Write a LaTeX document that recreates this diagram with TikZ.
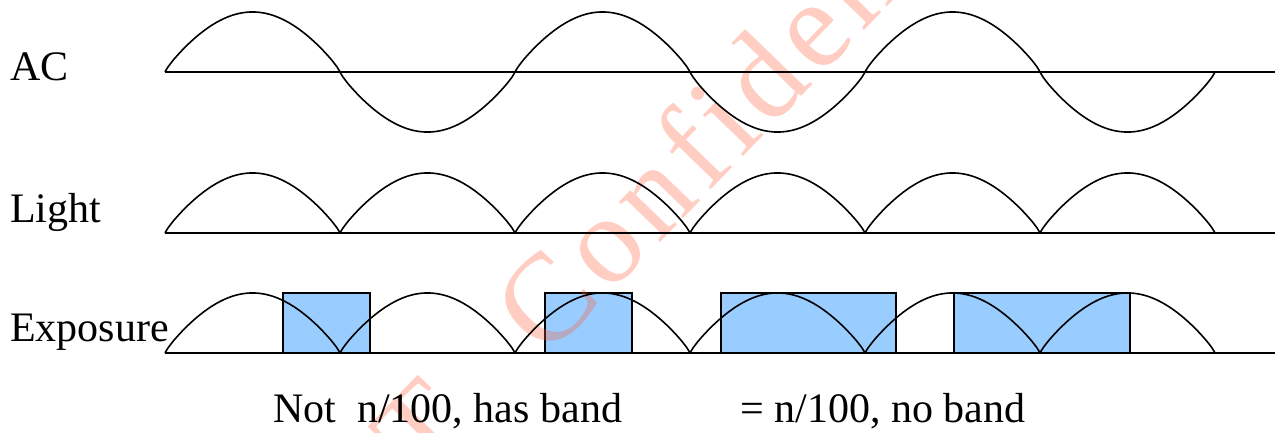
\documentclass[tikz,border=0pt]{standalone}
\usepackage{fontspec}
\setmainfont{Liberation Serif}
\newfontfamily\wmfont[LetterSpace=6]{Liberation Serif}
\definecolor{expblue}{RGB}{153,204,255}
\definecolor{wmred}{RGB}{255,90,50}
\begin{document}
\begin{tikzpicture}[x=1pt,y=-1pt]
\tikzset{
  wave/.style={line width=1.6pt, draw=black, line join=round},
  axis/.style={line width=1.6pt, draw=black},
  expbox/.style={draw=black, line width=1.6pt, fill=expblue},
  lbl/.style={anchor=base west, inner sep=0pt, font=\fontsize{42}{50}\selectfont},
  wm/.style={anchor=base west, inner sep=0pt, text=wmred, text opacity=0.3,
             font=\wmfont\fontsize{125}{130}\selectfont}
}
\useasboundingbox (0,0) rectangle (1280,432);
\clip (0,0) rectangle (1280,432);

% exposure windows
\draw[expbox] (283,293) rectangle (370,353);
\draw[expbox] (545,293) rectangle (632,353);
\draw[expbox] (721,293) rectangle (896,353);
\draw[expbox] (954,293) rectangle (1130,353);

% watermark
\node[wm, rotate=46] (wmark) at (425,486) {T\hspace{0.79em}Confidential};

% AC
\draw[axis] (165,72) -- (1275,72);
\foreach \s/\d in {165/-1,340/1,515/-1,690/1,865/-1,1040/1}
  \draw[wave] plot[domain=0:175, samples=60]
    ({\s+\x},{72+\d*60*(abs(sin(\x/175*180))+0.001)^0.85});

% Light
\draw[axis] (165,233) -- (1275,233);
\foreach \s in {165,340,515,690,865,1040}
  \draw[wave] plot[domain=0:175, samples=60]
    ({\s+\x},{233-60*(abs(sin(\x/175*180))+0.001)^0.85});

% Exposure
\draw[axis] (165,353) -- (1275,353);
\foreach \s in {165,340,515,690,865,1040}
  \draw[wave] plot[domain=0:175, samples=60]
    ({\s+\x},{353-60*(abs(sin(\x/175*180))+0.001)^0.85});

% labels
\node[lbl] (ac) at (10,80) {AC};
\node[lbl] (light) at (10,222) {Light};
\node[lbl] (exposure) at (10,341) {Exposure};
\node[lbl] (hasband) at (273,422) {Not\ \ n/100, has band};
\node[lbl] (noband) at (740,422) {= n/100, no band};
\end{tikzpicture}
\end{document}
